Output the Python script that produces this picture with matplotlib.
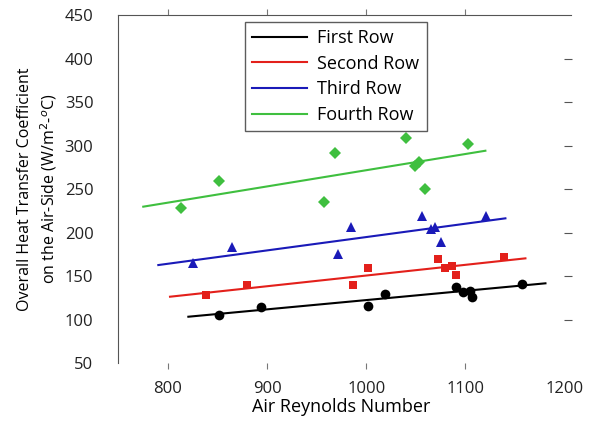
import numpy as np
import matplotlib
matplotlib.use("Agg")
import matplotlib.pyplot as plt

plt.rcParams["font.family"] = ["Open Sans", "DejaVu Sans"]

# First row (black circles)
re_first = [851.8, 893.9, 1001.3, 1018.5, 1090.9, 1097.6, 1104.4, 1107.0, 1156.9]
u_first = [105.2, 114.0, 115.9, 129.0, 137.7, 132.0, 132.8, 125.9, 141.2]
fit_first_x = [820.5, 1180.8]
fit_first_y = [103.2, 141.6]

# Second row (red squares)
re_second = [838.4, 879.5, 986.2, 1001.3, 1072.4, 1079.8, 1086.2, 1090.9, 1138.7]
u_second = [128.2, 139.7, 139.3, 158.7, 169.1, 159.6, 161.5, 150.7, 171.4]
fit_second_x = [802.0, 1160.6]
fit_second_y = [126.2, 170.3]

# Third row (blue triangles)
re_third = [824.9, 864.3, 971.0, 984.5, 1056.3, 1065.3, 1069.0, 1075.4, 1121.2]
u_third = [165.3, 182.9, 175.3, 206.7, 219.4, 203.7, 206.3, 189.4, 219.4]
fit_third_x = [790.2, 1140.4]
fit_third_y = [162.6, 216.3]

# Fourth row (green diamonds)
re_fourth = [812.8, 851.5, 956.9, 968.7, 1040.1, 1048.8, 1053.5, 1058.9, 1103.0]
u_fourth = [227.8, 259.2, 234.6, 291.0, 308.2, 276.3, 280.6, 249.9, 301.7]
fit_fourth_x = [775.0, 1120.2]
fit_fourth_y = [229.7, 294.0]

x_ticks = [800, 900, 1000, 1100, 1200]
y_ticks = [50, 100, 150, 200, 250, 300, 350, 400, 450]

series = [
    ("First Row", re_first, u_first, fit_first_x, fit_first_y, "black", "o", 7),
    ("Second Row", re_second, u_second, fit_second_x, fit_second_y, "#e3201b", "s", 6),
    ("Third Row", re_third, u_third, fit_third_x, fit_third_y, "#1a1ab8", "^", 7),
    ("Fourth Row", re_fourth, u_fourth, fit_fourth_x, fit_fourth_y, "#3fbf3f", "D", 6),
]

fig = plt.figure(figsize=(5.93, 4.22), dpi=100)
ax = fig.add_axes([0.1998, 0.1398, 0.7521, 0.8246])

for name, xs, ys, fx, fy, color, marker, ms in series:
    ax.plot(fx, fy, color=color, lw=1.5, label=name)
    ax.plot(xs, ys, linestyle="none", marker=marker, color=color,
            markersize=ms, markeredgewidth=0)

ax.set_xlim(750, 1200)
ax.set_ylim(50, 450)
ax.set_xticks(x_ticks)
ax.set_yticks(y_ticks)

ax.spines["right"].set_visible(False)
ax.spines["bottom"].set_visible(False)
ax.spines["left"].set_color("#555555")
ax.spines["top"].set_color("#555555")
ax.spines["top"].set_bounds(750, 1207)

ax.tick_params(axis="x", bottom=True, top=True, direction="out", length=4,
               width=0.8, color="#777777", labelsize=12, pad=9,
               labelcolor="#222222")
ax.tick_params(axis="y", left=False, right=True, direction="out", length=6,
               width=0.8, color="#555555", labelsize=12, pad=12,
               labelcolor="#222222")
ax.xaxis.get_major_ticks()[-1].tick1line.set_visible(False)
ax.xaxis.get_major_ticks()[-1].tick2line.set_visible(False)
for t in [ax.yaxis.get_major_ticks()[0], ax.yaxis.get_major_ticks()[-1]]:
    t.tick2line.set_visible(False)

ax.set_xlabel("Air Reynolds Number", fontsize=13, labelpad=1)
ax.set_ylabel("Overall Heat Transfer Coefficient\non the Air-Side (W/m$^{2}$-$^{o}$C)",
              fontsize=11.5, labelpad=4, linespacing=1.3)

leg = ax.legend(loc="upper left", bbox_to_anchor=(0.284, 0.98), borderaxespad=0,
                fontsize=13, handlelength=3.0, frameon=True, fancybox=False,
                labelspacing=0.42, borderpad=0.4, handletextpad=0.6)
leg.get_frame().set_edgecolor("#333333")
leg.get_frame().set_linewidth(1.0)

fig.savefig("out.png", dpi=100)
